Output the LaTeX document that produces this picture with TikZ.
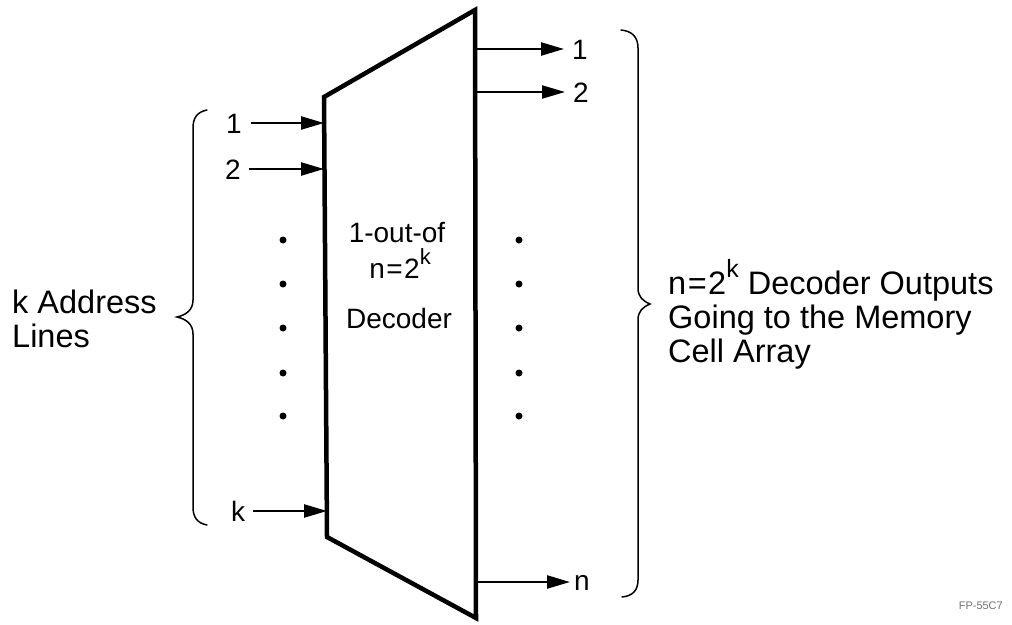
\documentclass[tikz,border=0pt]{standalone}
\usepackage{fontspec}
\setmainfont{Liberation Sans}
\usetikzlibrary{arrows.meta}
\newcommand{\supk}[1]{\raisebox{0.5em}{\fontsize{#1}{#1}\selectfont k}}
\newcommand{\eqsign}{\kern1.5pt=\kern1.5pt}
\tikzset{
  arr/.style={line width=2.3pt,-{Triangle[length=23pt,width=13pt]}},
  body/.style={line width=4.5pt,line join=miter},
  brc/.style={line width=1.5pt,line cap=round},
  numlbl/.style={font=\fontsize{28}{28}\selectfont,inner sep=0pt,anchor=base},
  sidetxt/.style={font=\fontsize{32.5}{34}\selectfont,inner sep=0pt,align=left,anchor=base west},
  ctrtxt/.style={font=\fontsize{28}{28}\selectfont,inner sep=0pt,anchor=base},
  dotm/.style={circle,fill=black,inner sep=0pt,minimum size=7pt},
}
\begin{document}
\begin{tikzpicture}[x=1pt,y=-1pt]
\useasboundingbox[fill=white] (0,0) rectangle (1012,624);
% decoder body
\coordinate (TL) at (324,97);
\coordinate (TR) at (475,10);
\coordinate (BR) at (476,618);
\coordinate (BL) at (327,537);
\draw[body] (TL) -- (TR) -- (BR) -- (BL) -- cycle;
% center text
\node[ctrtxt] (c1) at (397,242) {1-out-of};
\node[ctrtxt] (c2) at (400,278) {n\eqsign2\supk{22}};
\node[ctrtxt] (c3) at (399,328) {Decoder};
% inputs
\node[numlbl] (i1) at (234,133) {1};
\node[numlbl] (i2) at (233,179) {2};
\node[numlbl] (ik) at (238,521) {k};
\coordinate (e1) at (324,123);
\coordinate (e2) at (324,169);
\coordinate (ek) at (327,511);
\coordinate (s1) at (251,123);
\coordinate (s2) at (249,169);
\coordinate (sk) at (253,511);
\draw[arr] (s1) -- (e1);
\draw[arr] (s2) -- (e2);
\draw[arr] (sk) -- (ek);
% outputs
\coordinate (o1) at (475,49);
\coordinate (o2) at (475,92);
\coordinate (on) at (476,582);
\node[numlbl] (l1) at (580,59) {1};
\node[numlbl] (l2) at (581,102) {2};
\node[numlbl] (ln) at (582,590) {n};
\coordinate (t1) at (564,49);
\coordinate (t2) at (565,92);
\coordinate (tn) at (570,582);
\draw[arr] (o1) -- (t1);
\draw[arr] (o2) -- (t2);
\draw[arr] (on) -- (tn);
% dots
\foreach \y [count=\i] in {240,284,328,373,416}{
  \node[dotm] (dl\i) at (283,\y) {};
  \node[dotm] (dr\i) at (519,\y) {};
}
% left brace
\draw[brc] (207,110) .. controls (197,112) and (193,118) .. (193,128)
  -- (193,300) .. controls (193,310) and (186,315) .. (177,317)
  .. controls (186,319) and (193,324) .. (193,334)
  -- (193,507) .. controls (193,517) and (197,523) .. (207,525);
% right brace
\draw[brc] (621,30) .. controls (632,31) and (638,37) .. (638,48)
  -- (638,288) .. controls (638,297) and (643,301) .. (650,304)
  .. controls (643,307) and (638,311) .. (638,320)
  -- (638,580) .. controls (638,591) and (632,596) .. (622,597);
% side texts
\node[sidetxt] (lt) at (12,347) {k Address\\Lines};
\node[sidetxt] (rt) at (668,362) {n\eqsign2\supk{25} Decoder Outputs\\Going to the Memory\\Cell Array};
\node[font=\fontsize{11}{11}\selectfont,text=black!55,inner sep=0pt,anchor=base east] (fp) at (1003,609) {FP-55C7};
\end{tikzpicture}
\end{document}
